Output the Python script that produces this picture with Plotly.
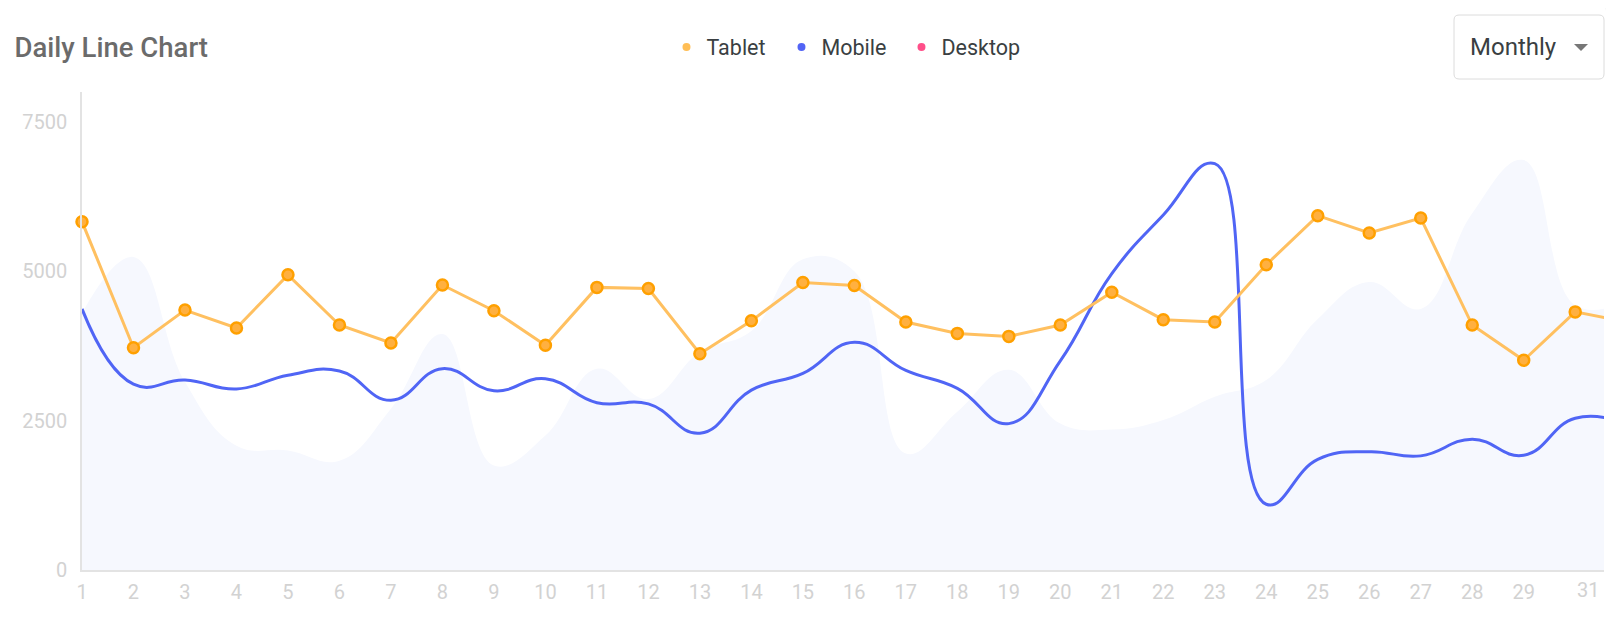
import plotly.graph_objects as go

days = list(range(1, 32))
tick_days = list(range(1, 30))
tablet = [5830, 3720, 4350, 4050, 4940, 4100, 3800, 4770, 4340, 3760, 4730, 4710, 3620, 4170, 4810,
          4760, 4150, 3960, 3910, 4100, 4650, 4190, 4150, 5110, 5930, 5640, 5890, 4100, 3510, 4320, 4150]
mobile = [4370, 3110, 3180, 3030, 3260, 3330, 2840, 3370, 3000, 3200, 2800, 2780, 2290, 3010, 3290,
          3810, 3340, 3040, 2450, 3500, 4960, 5940, 6800, 1100, 1850, 1980, 1910, 2190, 1920, 2540, 2450]
desktop = [4300, 5240, 3150, 2080, 2000, 1830, 2700, 3950, 1750, 2250, 3370, 2860, 3650, 4000, 5200,
           5000, 1950, 2650, 3350, 2450, 2350, 2510, 2900, 3180, 4200, 4820, 4370, 5970, 6860, 4430, 4500]
y_ticks = [0, 2500, 5000, 7500]
series_names = ["Tablet", "Mobile", "Desktop"]
legend_colors = ["#ffbe55", "#5264f5", "#ff4f89"]
legend_widths = [70, 75, 84]

OFF = 8  # page body margin
W, H = 1606, 630
L, R, T, B = 74, 10, 84, 68
PW, PH = W - L - R, H - T - B


def fx(sx):
    return (sx - OFF - L) / PW


def fy(sy):
    return (H - B - (sy - OFF)) / PH


fig = go.Figure()

fig.add_trace(go.Scatter(
    x=days, y=desktop, mode="lines", name="Desktop",
    line=dict(width=0, shape="spline", smoothing=1.2, color="rgba(0,0,0,0)"),
    fill="tozeroy", fillcolor="#f6f8fe", showlegend=False, hoverinfo="skip"))

fig.add_trace(go.Scatter(
    x=days, y=mobile, mode="lines", name="Mobile",
    line=dict(width=3, shape="spline", smoothing=1.3, color="#5065f5"),
    showlegend=False))

fig.add_trace(go.Scatter(
    x=days, y=tablet, mode="lines+markers", name="Tablet",
    line=dict(width=3, color="#ffc060"),
    marker=dict(size=11, color="#ffb040", line=dict(width=2.5, color="#ffa000")),
    cliponaxis=False, showlegend=False))

# legend-only entries (dots)
for name, col, lw in zip(series_names, legend_colors, legend_widths):
    fig.add_trace(go.Scatter(x=[None], y=[None], mode="markers", name=name, legendwidth=lw,
                             marker=dict(size=8, color=col), showlegend=True))

tick_font = dict(family="Roboto", size=20, color="#d2d2d2")

fig.update_xaxes(
    range=[1, 1 + PW / 51.49], tickvals=tick_days, ticktext=[str(d) for d in tick_days],
    showgrid=False, zeroline=False, showline=True, linecolor="#e3e3e3", linewidth=1.5,
    ticks="", tickfont=tick_font, ticklabelstandoff=3, fixedrange=True)
fig.update_yaxes(
    range=[0, 8000], tickvals=y_ticks, ticktext=[str(v) for v in y_ticks],
    showgrid=False, zeroline=False, showline=True, linecolor="#e3e3e3", linewidth=1.5,
    ticks="", tickfont=tick_font, ticklabelstandoff=9, fixedrange=True)

# dropdown box with rounded corners (screen pixel coordinates)
x0, x1, y0, y1, r = 1454, 1604, 15, 79, 5
path = (f"M {fx(x0 + r)} {fy(y0)} L {fx(x1 - r)} {fy(y0)} Q {fx(x1)} {fy(y0)} {fx(x1)} {fy(y0 + r)} "
        f"L {fx(x1)} {fy(y1 - r)} Q {fx(x1)} {fy(y1)} {fx(x1 - r)} {fy(y1)} "
        f"L {fx(x0 + r)} {fy(y1)} Q {fx(x0)} {fy(y1)} {fx(x0)} {fy(y1 - r)} "
        f"L {fx(x0)} {fy(y0 + r)} Q {fx(x0)} {fy(y0)} {fx(x0 + r)} {fy(y0)} Z")
shapes = [
    dict(type="path", xref="paper", yref="paper", path=path,
         line=dict(color="#dcdcdc", width=1), fillcolor="white", layer="above"),
    dict(type="path", xref="paper", yref="paper",
         path=f"M {fx(1574)} {fy(44)} L {fx(1588)} {fy(44)} L {fx(1581)} {fy(51)} Z",
         line=dict(width=0), fillcolor="#777777", layer="above"),
    dict(type="circle", xref="paper", yref="paper",
         x0=fx(1607), x1=fx(1715), y0=fy(54), y1=fy(-54),
         line=dict(color="rgba(0,0,0,0.07)", width=4), fillcolor="#4d65f5", layer="above"),
]

annotations = [
    dict(text="Monthly", xref="paper", yref="paper", x=fx(1468), y=fy(47),
         xanchor="left", yanchor="middle", showarrow=False,
         font=dict(family="Roboto", size=24, color="#3a3f42")),
    dict(text="31", xref="paper", yref="paper", x=1, y=fy(590), xshift=-3,
         xanchor="right", yanchor="middle", showarrow=False, font=tick_font),
]

fig.update_layout(
    width=W, height=H,
    margin=dict(l=L, r=R, t=T, b=B),
    paper_bgcolor="white", plot_bgcolor="white",
    title=dict(text="Daily Line Chart", x=(14.5 - OFF) / W, xanchor="left",
               y=1 - (47 - OFF) / H, yanchor="middle",
               font=dict(family="Roboto", size=27.5, color="#6b6b6b", weight=500)),
    legend=dict(orientation="h", x=0.5036, xanchor="center", y=fy(47), yanchor="middle",
                font=dict(family="Roboto", size=21.5, color="#3a3f42"), bgcolor="rgba(0,0,0,0)",
                itemclick=False, itemdoubleclick=False),
    shapes=shapes, annotations=annotations,
    hovermode=False,
)

fig.write_html("out.html", config={"displayModeBar": False})
